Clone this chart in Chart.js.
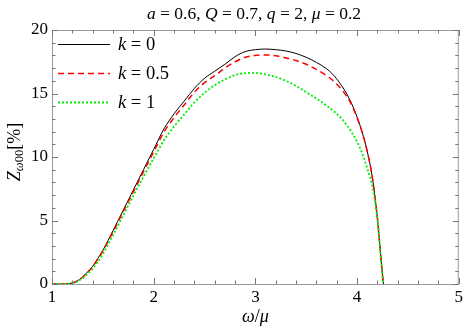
<!DOCTYPE html>
<html>
<head>
<meta charset="utf-8">
<script src="https://cdn.jsdelivr.net/npm/chart.js@4.4.1/dist/chart.umd.min.js"></script>
<style>
html,body{margin:0;padding:0;background:#fff;}
#wrap{width:466px;height:332px;}
</style>
</head>
<body>
<div id="wrap"><canvas id="c" width="466" height="332"></canvas></div>
<script>
// ---- data ----
const omegaK0 = [1.0,1.1,1.15,1.2,1.25,1.3,1.35,1.4,1.45,1.5,1.6,1.7,1.8,1.9,2.0,2.1,2.2,2.3,2.4,2.5,2.6,2.7,2.8,2.9,3.0,3.1,3.2,3.3,3.4,3.5,3.6,3.7,3.75,3.8,3.85,3.9,3.95,4.0,4.05,4.1,4.15,4.2,4.23,4.25,4.26];
const zK0 = [0,0,0.02,0.08,0.25,0.55,0.95,1.4,2.0,2.65,4.2,5.8,7.4,9.0,10.6,12.2,13.4,14.4,15.4,16.2,16.75,17.3,17.9,18.3,18.45,18.5,18.45,18.35,18.15,17.85,17.45,16.95,16.6,16.15,15.6,14.95,14.15,13.15,11.95,10.45,8.4,5.2,2.5,0.7,0];

const omegaK05 = [1.0,1.1,1.15,1.2,1.25,1.3,1.35,1.4,1.45,1.5,1.6,1.7,1.8,1.9,2.0,2.1,2.2,2.3,2.4,2.5,2.6,2.7,2.8,2.9,3.0,3.1,3.2,3.3,3.4,3.5,3.6,3.7,3.75,3.8,3.85,3.9,3.95,4.0,4.05,4.1,4.15,4.2,4.23,4.25,4.26];
const zK05 = [0,0,0.02,0.08,0.24,0.53,0.92,1.37,1.95,2.6,4.1,5.7,7.25,8.85,10.4,11.95,13.1,14.1,15.1,15.85,16.4,17.0,17.5,17.85,18.0,18.03,17.98,17.8,17.6,17.3,16.9,16.4,16.1,15.75,15.3,14.75,14.05,13.1,11.95,10.45,8.4,5.2,2.5,0.7,0];

const omegaK1 = [1.0,1.1,1.15,1.2,1.25,1.3,1.35,1.4,1.45,1.5,1.6,1.7,1.8,1.9,2.0,2.1,2.2,2.3,2.4,2.5,2.6,2.7,2.8,2.9,3.0,3.1,3.2,3.3,3.4,3.5,3.6,3.7,3.8,3.85,3.9,3.95,4.0,4.05,4.1,4.15,4.2,4.23,4.25,4.26];
const zK1 = [0,0,0.01,0.05,0.2,0.45,0.8,1.2,1.75,2.35,3.85,5.4,6.95,8.45,9.9,11.3,12.4,13.35,14.3,15.05,15.65,16.1,16.45,16.6,16.62,16.5,16.3,16.0,15.6,15.1,14.6,14.05,13.4,13.0,12.5,11.9,11.2,10.3,9.1,7.7,5.1,2.4,0.65,0];

const xTicks = [1,2,3,4,5];
const yTicks = [0,5,10,15,20];
const seriesLabels = ['k = 0','k = 0.5','k = 1'];
const titleText = 'a = 0.6, Q = 0.7, q = 2, μ = 0.2';

function pts(xs, ys){ return xs.map((x,i)=>({x:x, y:ys[i]})); }

const SERIF = '"Liberation Serif", "DejaVu Serif", serif';

function drawRich(ctx, parts, x, y, align){
  let w = 0;
  parts.forEach(p=>{ ctx.font = (p.it?'italic ':'') + p.size + 'px ' + SERIF; p.w = ctx.measureText(p.t).width; w += p.w; });
  let cx = align==='center' ? x - w/2 : (align==='right' ? x - w : x);
  parts.forEach(p=>{
    ctx.font = (p.it?'italic ':'') + p.size + 'px ' + SERIF;
    ctx.textAlign = 'left';
    ctx.textBaseline = 'alphabetic';
    ctx.fillText(p.t, cx, y + (p.dy||0));
    cx += p.w;
  });
}

const decor = {
  id:'decor',
  afterDraw(chart){
    const ctx = chart.ctx;
    const xs = chart.scales.x, ys = chart.scales.y;
    const a = chart.chartArea;
    ctx.save();
    ctx.strokeStyle = '#777';
    ctx.lineWidth = 1;
    for (let v = 1; v <= 5.0001; v += 0.2){
      const px = Math.round(xs.getPixelForValue(v)) + 0.5;
      const major = Math.abs(v - Math.round(v)) < 1e-6;
      const L = major ? 6 : 3.5;
      ctx.beginPath();
      ctx.moveTo(px, a.bottom); ctx.lineTo(px, a.bottom - L);
      ctx.moveTo(px, a.top); ctx.lineTo(px, a.top + L);
      ctx.stroke();
    }
    for (let v = 0; v <= 20.0001; v += 1){
      const py = Math.round(ys.getPixelForValue(v)) + 0.5;
      const major = v % 5 === 0;
      const L = major ? 6 : 3.5;
      ctx.beginPath();
      ctx.moveTo(a.left, py); ctx.lineTo(a.left + L, py);
      ctx.moveTo(a.right, py); ctx.lineTo(a.right - L, py);
      ctx.stroke();
    }
    ctx.fillStyle = '#000';
    // title
    const ts = 17.5;
    drawRich(ctx, [
      {t:'a', it:true, size:ts},{t:' = 0.6, ', size:ts},
      {t:'Q', it:true, size:ts},{t:' = 0.7, ', size:ts},
      {t:'q', it:true, size:ts},{t:' = 2, ', size:ts},
      {t:'μ', it:true, size:ts},{t:' = 0.2', size:ts}
    ], 254, 19, 'center');
    // x axis title
    drawRich(ctx, [{t:'ω', it:true, size:18},{t:'/', size:18},{t:'μ', it:true, size:18}], (a.left + a.right)/2, 322, 'center');
    // y axis title (rotated)
    ctx.save();
    ctx.translate(20, 152);
    ctx.rotate(-Math.PI/2);
    drawRich(ctx, [{t:'Z', it:true, size:18},{t:'ω', it:true, size:12.5, dy:3},{t:'00', size:12.5, dy:3},{t:'[%]', size:18}], 0, 0, 'center');
    ctx.restore();
    // legend
    const ds = chart.data.datasets;
    const ly = [44, 73, 102];
    ds.forEach((d,i)=>{
      ctx.save();
      ctx.strokeStyle = d.borderColor;
      ctx.lineWidth = d.borderWidth;
      ctx.setLineDash(d.borderDash || []);
      ctx.beginPath();
      ctx.moveTo(58, ly[i] + 0.5); ctx.lineTo(110, ly[i] + 0.5);
      ctx.stroke();
      ctx.restore();
      const val = d.label.split('=')[1].trim();
      drawRich(ctx, [{t:'k', it:true, size:18.5},{t:' = ' + val, size:18.5}], 118, ly[i] + 6, 'left');
    });
    ctx.restore();
  }
};

const tickFont = {family: SERIF, size: 17};

new Chart(document.getElementById('c'), {
  type: 'scatter',
  data: {
    datasets: [
      {label: seriesLabels[0], data: pts(omegaK0, zK0), showLine:true, borderColor:'#000000', borderWidth:1, pointRadius:0, cubicInterpolationMode:'monotone', order:3},
      {label: seriesLabels[1], data: pts(omegaK05, zK05), showLine:true, borderColor:'#ff0000', borderWidth:1.5, borderDash:[6,4], pointRadius:0, cubicInterpolationMode:'monotone', order:2},
      {label: seriesLabels[2], data: pts(omegaK1, zK1), showLine:true, borderColor:'#00ee00', borderWidth:1.8, borderDash:[2,2], pointRadius:0, cubicInterpolationMode:'monotone', order:1}
    ]
  },
  options: {
    responsive:false,
    animation:false,
    devicePixelRatio:1,
    layout:{padding:{left:0, right:6, top:30, bottom:0}},
    plugins:{legend:{display:false}, title:{display:false}, tooltip:{enabled:false}},
    scales:{
      x:{
        type:'linear', min:1, max:5,
        afterBuildTicks(s){ s.ticks = xTicks.map(v=>({value:v})); },
        afterFit(s){ s.height = 48; },
        grid:{display:true, drawOnChartArea:false, drawTicks:false},
        border:{display:true, color:'#999', width:1},
        ticks:{color:'#000', font:tickFont, padding:3, maxRotation:0}
      },
      y:{
        type:'linear', min:0, max:20,
        afterBuildTicks(s){ s.ticks = yTicks.map(v=>({value:v})); },
        afterFit(s){ s.width = 52; },
        grid:{display:true, drawOnChartArea:false, drawTicks:false},
        border:{display:true, color:'#999', width:1},
        ticks:{color:'#000', font:tickFont, padding:4}
      }
    }
  },
  plugins:[decor, {
    id:'frame',
    afterDatasetsDraw(chart){
      const ctx = chart.ctx, a = chart.chartArea;
      ctx.save();
      ctx.strokeStyle = '#999'; ctx.lineWidth = 1;
      ctx.beginPath();
      ctx.moveTo(a.left, a.top + 0.5); ctx.lineTo(a.right, a.top + 0.5);
      ctx.moveTo(a.right - 0.5, a.top); ctx.lineTo(a.right - 0.5, a.bottom);
      ctx.stroke();
      ctx.restore();
    }
  }]
});
</script>
</body>
</html>
